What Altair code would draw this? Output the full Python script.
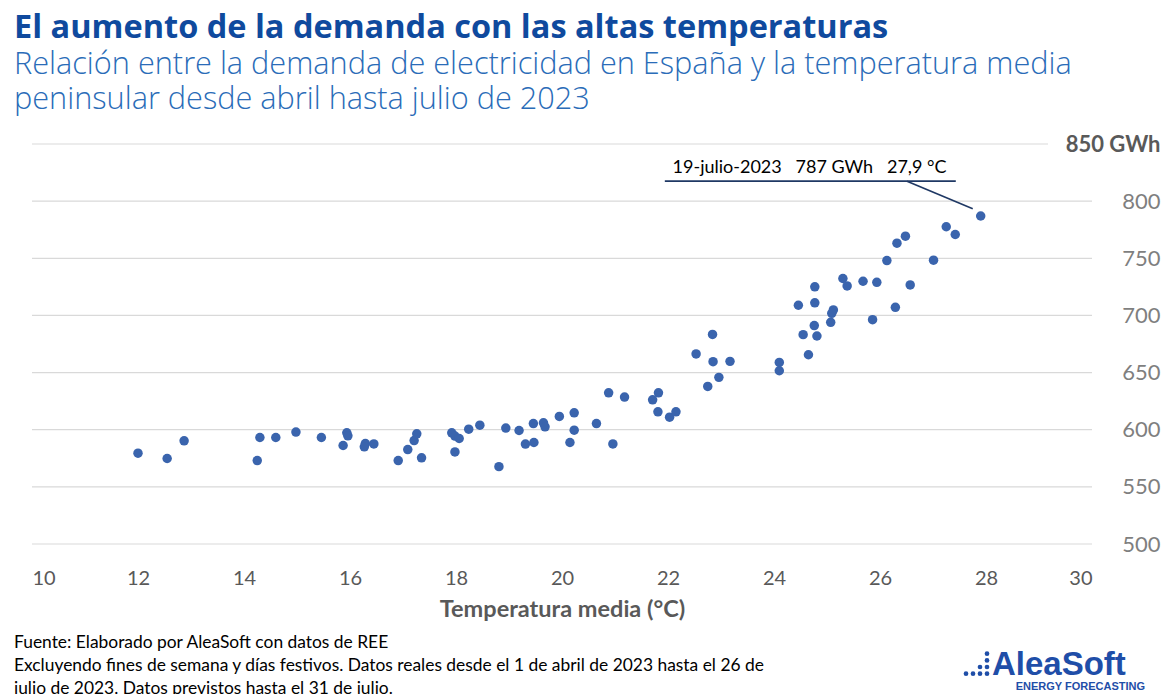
import altair as alt
import pandas as pd

# Temperatura media peninsular (°C) y demanda diaria (GWh)
temps = [12.0, 12.55, 12.87, 14.25, 14.3, 14.6, 14.98, 15.46, 15.94, 15.96, 15.87,
         16.29, 16.27, 16.45, 16.91, 17.09, 17.21, 17.26, 17.35, 17.92, 17.98, 18.06,
         17.98, 18.24, 18.45, 18.81, 18.94, 19.19, 19.31, 19.47, 19.46, 19.65, 19.68,
         19.95, 20.23, 20.23, 20.15, 20.65, 20.88, 20.96, 21.18, 21.71, 21.82, 21.81,
         22.03, 22.15, 22.75, 22.96, 22.84, 22.53, 22.85, 23.17, 24.10, 24.10, 27.9,
         27.25, 27.42, 26.48, 26.32, 26.13, 27.01, 25.30, 25.38, 25.68, 25.94, 26.57,
         24.77, 24.46, 24.77, 25.12, 25.09, 25.07, 26.29, 25.86, 24.76, 24.55, 24.81,
         24.65]
demand = [579.5, 574.8, 590.3, 573.0, 593.2, 593.2, 597.9, 593.2, 597.3, 594.7, 586.2,
          587.9, 585.0, 587.6, 573.0, 582.6, 590.5, 596.4, 575.4, 597.3, 594.4, 592.3,
          580.6, 600.5, 604.0, 567.7, 601.4, 599.3, 587.4, 588.8, 605.4, 606.0, 602.5,
          611.6, 614.8, 599.6, 588.8, 605.4, 632.3, 587.6, 628.6, 626.2, 632.3, 615.7,
          611.0, 615.7, 637.9, 645.8, 683.4, 666.3, 659.5, 659.8, 658.9, 651.6, 787.0,
          777.6, 770.8, 769.3, 763.2, 748.0, 748.3, 732.3, 725.8, 729.9, 729.0, 726.7,
          725.0, 708.9, 711.0, 704.8, 701.8, 694.0, 707.1, 696.3, 691.1, 683.2, 682.0,
          665.6]

x_ticks = [10, 12, 14, 16, 18, 20, 22, 24, 26, 28, 30]
y_ticks = [500, 550, 600, 650, 700, 750, 800, 850]

NB = "\u00a0"
annot_text = ["19-julio-2023" + NB * 3 + "787 GWh" + NB * 3 + "27,9 °C"]
annot_t = [24.67]
annot_d = [828.6]
# leader line (data coords)
lead_x = [21.94, 26.51]
lead_x2 = [27.43, 27.75]
lead_y = [817.5, 817.5]
lead_y2 = [817.5, 793.3]

title = "El aumento de la demanda con las altas temperaturas"
subtitle = ["Relación entre la demanda de electricidad en España y la temperatura media",
            "peninsular desde abril hasta julio de 2023"]
footer = ["Fuente: Elaborado por AleaSoft con datos de REE",
          "Excluyendo fines de semana y días festivos. Datos reales desde el 1 de abril de 2023 hasta el 26 de",
          "julio de 2023. Datos previstos hasta el 31 de julio."]

df = pd.DataFrame({"t": temps, "d": demand})

xscale = alt.Scale(domain=[10, 30], nice=False, zero=False)
yscale = alt.Scale(domain=[500, 850], nice=False, zero=False)

x_enc = alt.X("t:Q", scale=xscale,
              axis=alt.Axis(values=x_ticks, title="Temperatura media (°C)", grid=False,
                            domain=False, ticks=False, labelFontSize=20, labelFont="Lato",
                            labelColor="#595959", labelPadding=24, titleFont="Lato",
                            titleFontSize=23.5, titleFontWeight="bold", titleColor="#595959",
                            titlePadding=9))
y_enc = alt.Y("d:Q", scale=yscale,
              axis=alt.Axis(orient="right", values=y_ticks, title=None, grid=False,
                            domain=False, ticks=False, labelFontSize=22, labelFont="Lato",
                            labelAlign="right", labelPadding=68, labelBaseline="middle",
                            labelExpr="datum.value == 850 ? '850 GWh' : datum.label",
                            labelColor={"condition": {"test": "datum.value == 850", "value": "#595959"}, "value": "#7f7f7f"},
                            labelFontWeight={"condition": {"test": "datum.value == 850", "value": "bold"}, "value": "normal"}))

grid_df = pd.DataFrame({"g": y_ticks[:-1]})
grid = alt.Chart(grid_df).mark_rule(color="#d9d9d9", strokeWidth=1.2).encode(
    y=alt.Y("g:Q", scale=yscale), x=alt.value(0), x2=alt.value(1060))
top_df = pd.DataFrame({"g": [850], "a": [10], "b": [29.17]})
topline = alt.Chart(top_df).mark_rule(color="#d9d9d9", strokeWidth=1.2).encode(
    y=alt.Y("g:Q", scale=yscale), x=alt.X("a:Q", scale=xscale), x2="b:Q")

points = alt.Chart(df).mark_circle(size=90, opacity=1, color="#3a64ad").encode(x=x_enc, y=y_enc)

lead_df = pd.DataFrame({"x": lead_x, "x2": lead_x2, "y": lead_y, "y2": lead_y2})
leader = alt.Chart(lead_df).mark_rule(color="#1f3864", strokeWidth=1.6).encode(
    x=alt.X("x:Q", scale=xscale), x2="x2:Q",
    y=alt.Y("y:Q", scale=yscale), y2="y2:Q")

ann_df = pd.DataFrame({"t": annot_t, "d": annot_d, "txt": annot_text})
ann = alt.Chart(ann_df).mark_text(font="Lato", fontSize=18, color="#000000",
                                  baseline="middle", align="center").encode(
    x=alt.X("t:Q", scale=xscale), y=alt.Y("d:Q", scale=yscale), text="txt:N")

foot = alt.Chart(pd.DataFrame({"a": [0]})).mark_text(
    text=footer, font="Lato", fontSize=17.4, color="#000000", align="left",
    baseline="middle", lineHeight=23).encode(x=alt.value(-18), y=alt.value(499))

logo1 = alt.Chart(pd.DataFrame({"a": [0]})).mark_text(
    text="AleaSoft", font="Liberation Sans", fontWeight="bold", fontSize=33,
    color="#1f4ea8", align="left", baseline="alphabetic").encode(
    x=alt.value(960), y=alt.value(531))
logo2 = alt.Chart(pd.DataFrame({"a": [0]})).mark_text(
    text="ENERGY FORECASTING", font="Liberation Sans", fontWeight="bold", fontSize=11,
    color="#1f4ea8", align="right", baseline="alphabetic").encode(
    x=alt.value(1113), y=alt.value(546))
dots_df = pd.DataFrame({"px": [934, 941, 948, 955, 948, 955, 955, 955],
                        "py": [529.7, 529.7, 529.7, 529.7, 523, 523, 516.4, 509.7]})
logo_dots = alt.Chart(dots_df).mark_circle(size=22, opacity=1, color="#1f4ea8").encode(
    x=alt.X("px:Q", scale=None), y=alt.Y("py:Q", scale=None))

chart = alt.layer(grid, topline, points, leader, ann, foot, logo1, logo2, logo_dots).properties(
    width=1060, height=400,
    background="white",
    title=alt.TitleParams(text=title, subtitle=subtitle, anchor="start", frame="group",
                          dx=-18, offset=18, font="Open Sans", fontSize=32.5, fontWeight="bold",
                          color="#0f4a9e", subtitleFont="Open Sans", subtitleFontSize=30.7,
                          subtitleFontWeight=300, subtitleColor="#2a6cb8",
                          subtitleLineHeight=35, subtitlePadding=6),
    autosize=alt.AutoSizeParams(type="none"),
    padding={"left": 24, "top": 136, "right": 70, "bottom": 160},
).configure_view(strokeWidth=0, stroke="transparent").configure_axis(
    domain=False, grid=False, ticks=False
)

chart.save("out.html", embed_options={"renderer": "svg", "actions": False})
